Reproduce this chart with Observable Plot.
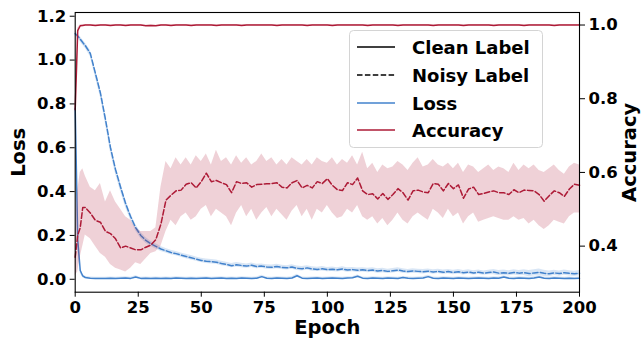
<!DOCTYPE html>
<html><head><meta charset="utf-8">
<script src="https://cdn.jsdelivr.net/npm/d3@7"></script>
<script src="https://cdn.jsdelivr.net/npm/@observablehq/plot@0.6"></script>
<style>
body{margin:0;background:#fff;}
#wrap{position:relative;width:644px;height:343px;font-family:"DejaVu Sans",sans-serif;font-weight:bold;}
#legend{position:absolute;left:349px;top:30px;}
</style></head><body><div id="wrap"></div>
<script>
const epochTicks=[0,25,50,75,100,125,150,175,200];
const lossTicks=[0,0.2,0.4,0.6,0.8,1.0,1.2];
const accTicks=[0.4,0.6,0.8,1.0];
const legendLabels=["Clean Label","Noisy Label","Loss","Accuracy"];

const epochs=[0,1,2,3,4,6,8,10,12,14,
16,18,20,22,24,26,28,30,32,34,
36,38,40,42,44,46,48,50,52,54,
56,58,60,62,64,66,68,70,72,74,
76,78,80,82,84,86,88,90,92,94,
96,98,100,102,104,106,108,110,112,114,
116,118,120,122,124,126,128,130,132,134,
136,138,140,142,144,146,148,150,152,154,
156,158,160,162,164,166,168,170,172,174,
176,178,180,182,184,186,188,190,192,194,
196,198,200];

const noisyAcc=[0.37,0.43,0.45,0.505,0.505,0.49,0.47,0.465,0.44,0.434,
0.42,0.395,0.40,0.395,0.39,0.39,0.397,0.403,0.418,0.46,
0.525,0.538,0.55,0.552,0.568,0.572,0.558,0.575,0.598,0.575,
0.578,0.572,0.567,0.545,0.575,0.57,0.572,0.56,0.567,0.568,
0.569,0.57,0.572,0.56,0.558,0.572,0.578,0.558,0.565,0.558,
0.575,0.57,0.583,0.565,0.553,0.551,0.572,0.567,0.585,0.55,
0.54,0.542,0.528,0.543,0.527,0.54,0.556,0.545,0.525,0.55,
0.552,0.547,0.545,0.57,0.568,0.55,0.57,0.556,0.566,0.53,
0.555,0.56,0.54,0.543,0.547,0.55,0.545,0.545,0.54,0.553,
0.545,0.552,0.551,0.55,0.54,0.522,0.537,0.55,0.545,0.535,
0.555,0.568,0.565];
const noisyAccHi=[0.44,0.55,0.60,0.61,0.59,0.56,0.55,0.57,0.52,0.55,
0.52,0.50,0.48,0.47,0.45,0.44,0.44,0.44,0.45,0.56,
0.63,0.61,0.64,0.62,0.64,0.62,0.645,0.63,0.65,0.62,
0.66,0.63,0.64,0.62,0.645,0.625,0.64,0.62,0.63,0.65,
0.63,0.64,0.62,0.635,0.62,0.64,0.63,0.62,0.635,0.62,
0.64,0.63,0.625,0.64,0.62,0.635,0.625,0.645,0.62,0.655,
0.61,0.625,0.60,0.62,0.61,0.615,0.63,0.62,0.605,0.625,
0.64,0.615,0.62,0.635,0.62,0.615,0.625,0.61,0.625,0.60,
0.62,0.615,0.60,0.61,0.62,0.605,0.615,0.61,0.60,0.625,
0.605,0.62,0.61,0.62,0.605,0.60,0.61,0.62,0.605,0.595,
0.615,0.625,0.62];
const noisyAccLo=[0.32,0.33,0.37,0.40,0.43,0.42,0.40,0.38,0.37,0.35,
0.34,0.335,0.33,0.34,0.355,0.35,0.365,0.38,0.385,0.40,
0.44,0.47,0.455,0.48,0.49,0.47,0.48,0.50,0.51,0.48,
0.50,0.49,0.48,0.455,0.49,0.51,0.48,0.50,0.47,0.49,
0.505,0.48,0.50,0.485,0.47,0.495,0.51,0.48,0.50,0.47,
0.50,0.49,0.51,0.49,0.475,0.48,0.50,0.49,0.51,0.48,
0.47,0.48,0.46,0.475,0.455,0.47,0.49,0.47,0.46,0.48,
0.49,0.48,0.47,0.50,0.49,0.475,0.50,0.48,0.49,0.46,
0.48,0.49,0.465,0.47,0.475,0.48,0.475,0.47,0.47,0.48,
0.47,0.475,0.46,0.47,0.455,0.445,0.455,0.47,0.465,0.46,
0.48,0.49,0.49];

const cleanAcc=[0.77,0.985,0.998,0.999,1.0,1.0,0.999,1.0,1.0,0.999,
1.0,1.0,0.999,1.0,1.0,1.0,0.998,0.999,0.998,1.0,
1.0,0.999,1.0,1.0,1.0,0.999,1.0,1.0,1.0,1.0,
0.999,1.0,1.0,1.0,1.0,0.999,1.0,1.0,1.0,1.0,
1.0,1.0,0.999,1.0,1.0,1.0,1.0,1.0,0.999,1.0,
1.0,1.0,1.0,0.999,1.0,1.0,1.0,1.0,1.0,1.0,
0.999,1.0,1.0,1.0,1.0,1.0,0.999,1.0,1.0,1.0,
1.0,1.0,1.0,0.999,1.0,1.0,1.0,1.0,1.0,0.999,
1.0,1.0,1.0,1.0,1.0,0.999,1.0,1.0,1.0,1.0,
1.0,0.999,1.0,1.0,1.0,1.0,1.0,0.999,1.0,1.0,
1.0,1.0,1.0];
const cleanAccStd=[0.02,0.006,0.003,0.002,0.0015,0.0015,0.0015,0.0015,0.0015,0.0015,
0.0015,0.0015,0.0015,0.0015,0.0015,0.0015,0.0015,0.0015,0.0015,0.0015,
0.0015,0.0015,0.0015,0.0015,0.0015,0.0015,0.0015,0.0015,0.0015,0.0015,
0.0015,0.0015,0.0015,0.0015,0.0015,0.0015,0.0015,0.0015,0.0015,0.0015,
0.0015,0.0015,0.0015,0.0015,0.0015,0.0015,0.0015,0.0015,0.0015,0.0015,
0.0015,0.0015,0.0015,0.0015,0.0015,0.0015,0.0015,0.0015,0.0015,0.0015,
0.0015,0.0015,0.0015,0.0015,0.0015,0.0015,0.0015,0.0015,0.0015,0.0015,
0.0015,0.0015,0.0015,0.0015,0.0015,0.0015,0.0015,0.0015,0.0015,0.0015,
0.0015,0.0015,0.0015,0.0015,0.0015,0.0015,0.0015,0.0015,0.0015,0.0015,
0.0015,0.0015,0.0015,0.0015,0.0015,0.0015,0.0015,0.0015,0.0015,0.0015,
0.0015,0.0015,0.0015];

const cleanLoss=[0.78,0.18,0.04,0.015,0.008,0.005,0.004,0.004,0.004,0.005,
0.004,0.005,0.006,0.004,0.01,0.004,0.005,0.004,0.005,0.004,
0.005,0.004,0.006,0.005,0.004,0.005,0.004,0.005,0.006,0.004,
0.005,0.006,0.004,0.005,0.004,0.006,0.005,0.004,0.005,0.012,
0.005,0.004,0.006,0.005,0.004,0.006,0.016,0.005,0.004,0.005,
0.006,0.004,0.005,0.006,0.005,0.004,0.006,0.007,0.014,0.005,
0.004,0.006,0.005,0.004,0.006,0.005,0.004,0.008,0.005,0.004,
0.005,0.006,0.012,0.005,0.004,0.006,0.005,0.004,0.006,0.005,
0.004,0.005,0.006,0.005,0.004,0.006,0.005,0.01,0.005,0.004,
0.006,0.005,0.004,0.006,0.01,0.005,0.004,0.006,0.005,0.004,
0.005,0.004,0.005];
const cleanLossStd=[0.03,0.03,0.012,0.008,0.006,0.005,0.005,0.005,0.005,0.005,
0.005,0.005,0.005,0.005,0.006,0.005,0.005,0.005,0.005,0.005,
0.005,0.005,0.005,0.005,0.005,0.005,0.005,0.005,0.005,0.005,
0.005,0.005,0.005,0.005,0.005,0.005,0.005,0.005,0.005,0.006,
0.005,0.005,0.005,0.005,0.005,0.005,0.007,0.005,0.005,0.005,
0.005,0.005,0.005,0.005,0.005,0.005,0.005,0.005,0.006,0.005,
0.005,0.005,0.005,0.005,0.005,0.005,0.005,0.005,0.005,0.005,
0.005,0.005,0.006,0.005,0.005,0.005,0.005,0.005,0.005,0.005,
0.005,0.005,0.005,0.005,0.005,0.005,0.005,0.006,0.005,0.005,
0.005,0.005,0.005,0.005,0.006,0.005,0.005,0.005,0.005,0.005,
0.005,0.005,0.005];

const noisyLoss=[1.12,1.11,1.095,1.08,1.066,1.03,0.94,0.85,0.73,0.60,
0.50,0.42,0.345,0.285,0.235,0.20,0.177,0.162,0.15,0.138,
0.13,0.122,0.117,0.11,0.104,0.098,0.092,0.086,0.082,0.08,
0.078,0.072,0.068,0.062,0.066,0.063,0.06,0.064,0.058,0.06,
0.056,0.055,0.058,0.054,0.052,0.056,0.05,0.048,0.052,0.047,
0.045,0.048,0.044,0.046,0.043,0.047,0.042,0.044,0.041,0.043,
0.04,0.042,0.038,0.04,0.036,0.039,0.042,0.038,0.035,0.038,
0.036,0.034,0.037,0.033,0.036,0.032,0.035,0.031,0.034,0.03,
0.033,0.029,0.032,0.028,0.031,0.033,0.028,0.03,0.027,0.031,
0.028,0.03,0.026,0.029,0.032,0.027,0.025,0.029,0.026,0.03,
0.027,0.025,0.028];
const noisyLossStd=[0.01,0.01,0.012,0.012,0.012,0.015,0.018,0.02,0.022,0.022,
0.02,0.02,0.018,0.016,0.015,0.014,0.013,0.012,0.012,0.011,
0.01,0.01,0.01,0.01,0.01,0.01,0.01,0.01,0.01,0.01,
0.01,0.01,0.01,0.01,0.01,0.01,0.01,0.01,0.01,0.01,
0.01,0.01,0.01,0.01,0.01,0.01,0.01,0.01,0.01,0.01,
0.01,0.01,0.01,0.01,0.01,0.01,0.01,0.01,0.01,0.01,
0.01,0.01,0.01,0.01,0.01,0.01,0.01,0.01,0.01,0.01,
0.01,0.01,0.01,0.01,0.01,0.01,0.01,0.01,0.01,0.01,
0.01,0.01,0.01,0.01,0.01,0.012,0.012,0.012,0.012,0.012,
0.012,0.013,0.014,0.014,0.015,0.014,0.013,0.012,0.012,0.012,
0.012,0.012,0.012];

const BLUE="#4282cc", RED="#ad1a36";
const lossDomain=[-0.059,1.217], accDomain=[0.275,1.034];
const k=(lossDomain[1]-lossDomain[0])/(accDomain[1]-accDomain[0]);
const a2l=a=>lossDomain[0]+(a-accDomain[0])*k;
const l2a=l=>accDomain[0]+(l-lossDomain[0])/k;

const rows=epochs.map((e,i)=>({
  epoch:e,
  cl:cleanLoss[i], clLo:cleanLoss[i]-cleanLossStd[i], clHi:cleanLoss[i]+cleanLossStd[i],
  nl:noisyLoss[i], nlLo:noisyLoss[i]-noisyLossStd[i], nlHi:noisyLoss[i]+noisyLossStd[i],
  ca:a2l(cleanAcc[i]), caLo:a2l(cleanAcc[i]-cleanAccStd[i]), caHi:a2l(Math.min(cleanAcc[i]+cleanAccStd[i],1.003)),
  na:a2l(noisyAcc[i]), naLo:a2l(noisyAccLo[i]), naHi:a2l(noisyAccHi[i])
}));

const dash="5.5,2.4";
const chart=Plot.plot({
  width:644,height:343,marginLeft:74.7,marginRight:65,marginTop:12,marginBottom:51.3,
  style:{fontFamily:'"DejaVu Sans", sans-serif',fontSize:"16.5px",fontWeight:"bold",color:"#000",background:"#fff",overflow:"visible"},
  x:{domain:[0,200]}, y:{domain:lossDomain},
  marks:[
    Plot.areaY(rows,{x:"epoch",y1:"clLo",y2:"clHi",fill:BLUE,fillOpacity:0.2}),
    Plot.areaY(rows,{x:"epoch",y1:"nlLo",y2:"nlHi",fill:BLUE,fillOpacity:0.2}),
    Plot.lineY(rows,{x:"epoch",y:"cl",stroke:BLUE,strokeWidth:1.5}),
    Plot.lineY(rows,{x:"epoch",y:"nl",stroke:BLUE,strokeWidth:1.5,strokeDasharray:dash}),
    Plot.areaY(rows,{x:"epoch",y1:"caLo",y2:"caHi",fill:RED,fillOpacity:0.2}),
    Plot.areaY(rows,{x:"epoch",y1:"naLo",y2:"naHi",fill:RED,fillOpacity:0.2}),
    Plot.lineY(rows,{x:"epoch",y:"ca",stroke:RED,strokeWidth:1.5}),
    Plot.lineY(rows,{x:"epoch",y:"na",stroke:RED,strokeWidth:1.5,strokeDasharray:dash}),
    Plot.axisX({ticks:epochTicks,tickSize:5,tickPadding:4,label:null,tickFormat:d=>String(d)}),
    Plot.axisY({ticks:lossTicks,tickSize:5,tickPadding:4,label:null,tickFormat:d=>d.toFixed(1)}),
    Plot.axisY({anchor:"right",ticks:accTicks.map(a2l),tickSize:5,tickPadding:4,label:null,tickFormat:d=>l2a(d).toFixed(1)}),
    Plot.frame({stroke:"#000",strokeWidth:1.1}),
    Plot.text(["Epoch"],{text:d=>d,frameAnchor:"bottom",textAnchor:"middle",lineAnchor:"middle",dy:36,fontSize:19.5,fontWeight:"bold"}),
    Plot.text(["Loss"],{text:d=>d,frameAnchor:"left",textAnchor:"middle",lineAnchor:"middle",dx:-56.7,rotate:-90,fontSize:19.5,fontWeight:"bold"}),
    Plot.text(["Accuracy"],{text:d=>d,frameAnchor:"right",textAnchor:"middle",lineAnchor:"middle",dx:50,rotate:-90,fontSize:19.5,fontWeight:"bold"})
  ]
});
const wrap=document.getElementById("wrap");
wrap.appendChild(chart);

// legend
const ns="http://www.w3.org/2000/svg";
const lg=document.createElementNS(ns,"svg");
lg.setAttribute("id","legend");lg.setAttribute("width","195");lg.setAttribute("height","119");
const styles=[{c:"#000",d:null},{c:"#000",d:dash},{c:BLUE,d:null},{c:RED,d:null}];
let html='<rect x="0.5" y="0.5" width="193" height="117" rx="4" fill="rgba(255,255,255,0.8)" stroke="#d4d4d4"/>';
const rowsY=[17,45,73,100];
legendLabels.forEach((t,i)=>{
  const y=rowsY[i];
  html+=`<line x1="8" x2="46" y1="${y}" y2="${y}" stroke="${styles[i].c}" stroke-width="1.5" ${styles[i].d?`stroke-dasharray="${styles[i].d}"`:""}/>`;
  html+=`<text x="63" y="${y+6.6}" font-family="DejaVu Sans" font-weight="bold" font-size="18" fill="#000">${t}</text>`;
});
lg.innerHTML=html;
wrap.appendChild(lg);
</script></body></html>
